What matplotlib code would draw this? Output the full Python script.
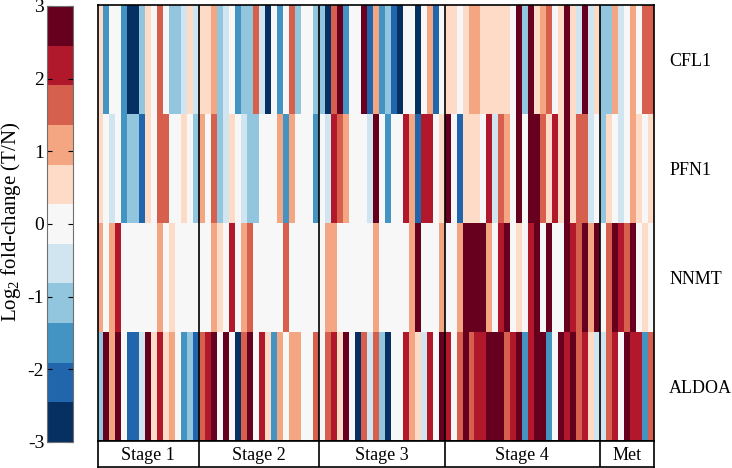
#!/usr/bin/env python3

import numpy as np
from matplotlib import pyplot as plt

plt.rcParams['font.family'] = ['Liberation Serif', 'DejaVu Serif']
plt.rcParams['mathtext.fontset'] = 'custom'
plt.rcParams['mathtext.rm'] = 'Liberation Serif'
plt.rcParams['mathtext.default'] = 'regular'
plt.rcParams['axes.unicode_minus'] = False

genes = ["CFL1", "PFN1", "NNMT", "ALDOA"]
stages = ["Stage 1", "Stage 2", "Stage 3", "Stage 4", "Met"]
stage_sizes = [17, 20, 21, 26, 9]
cbar_ticks = [-3, -2, -1, 0, 1, 2, 3]

# log2 fold-change per sample
cfl1 = [0.5, -1.6, 0, 0, -1.6, -2.7, -2.7, -1.1, 0.5, 0, 1.6, 0, -1.1, -1.1, -0.5, 0.5, -0.5,
        0.5, 0.5, 1.1, -1.1, -0.5, 0, -1.6, -1.1, -1.1, 1.6, -0.5, -2.7, 0, -1.6, 0, 1.6, -1.1, 0, 0, -1.1,
        -1.1, -2.7, 1.6, 2.7, -1.6, 0, 0, 2.7, -2.2, 1.1, -1.6, -1.1, -2.2, -2.7, 0, 0, -2.7, 0, 1.1, -2.2, 0,
        0.5, 0.5, 0, 0.5, 1.1, 1.1, 0.5, 0.5, 0.5, 0.5, 0.5, 0, 2.7, -1.1, 2.7, 0.5, 1.1, 1.6, 0, 0.5, 2.7, 0.5, -0.5, 2.7, -0.5, 0.5,
        -1.1, -1.1, 1.1, -0.5, 0, 1.1, 0, 1.6, 1.6]
pfn1 = [0.5, 0, -0.5, 0, -1.6, -1.1, -1.1, -2.2, 0.5, 0, 1.6, 1.6, 0, 0, 0.5, 0, -1.1,
        1.1, 0, 1.6, -1.1, -0.5, 0.5, 0, -0.5, -1.1, -1.1, 0, 0, 0, 1.1, -1.6, 1.1, 0, 0, 0, -1.6,
        0, -0.5, 2.2, 1.6, 1.1, 0, 0, 0, -0.5, 2.7, 0, -1.6, 0, 0, 2.2, 1.1, -2.2, 2.2, 2.2, 0, 0.5,
        2.7, 0, -2.2, 0.5, 0.5, 0.5, 0, 2.2, -0.5, 1.6, 1.1, 0, 2.7, 0, 2.7, 2.7, 1.6, 0.5, 2.2, 0.5, 2.7, 0.5, 1.6, 1.6, -0.5, 0,
        -1.1, 0.5, 0, -0.5, 0, 1.1, 0.5, 0, 0.5]
nnmt = [1.1, 0, 1.1, 2.2, 0, 0, 0, 0, 0, 0, 1.1, 0, 0.5, 0, 0, 0, 0,
        0, 0, 1.1, 0.5, 0, 2.2, 0, 1.1, 1.6, 0, 0, 0, 0, 0, 1.6, 0, 0, 0, 0, 0,
        0, 1.1, 1.1, 0, 0, 0, 0, 0, 0, 1.1, 0, 0, 0, 0, 0, 1.1, 2.7, 0, 0, 0, 1.1,
        0, 0, 1.1, 2.7, 2.7, 2.7, 2.7, 1.1, 0, 2.2, 2.7, 0, 0.5, 0, 2.2, 2.7, 0, 2.7, 0, 0, 2.7, 2.2, 1.6, 2.7, 1.1, 2.7,
        0, 1.6, 2.7, 2.2, 1.6, 2.7, 0, 0.5, 0]
aldoa = [-1.1, 2.7, 1.1, 2.7, 0, -2.2, -2.2, -0.5, 2.7, 0.5, 2.2, 0.5, 1.1, 0, -1.6, -1.1, -2.2,
         1.6, 2.2, 2.7, 0, 2.7, 0, -2.7, 1.6, 2.7, 0, 2.2, 0.5, -1.6, 1.1, 0, 1.1, 1.1, 0, 0, 1.6,
         0, 1.6, 2.2, 0.5, 2.7, 0, -2.7, 1.6, -0.5, 1.6, -1.1, -2.7, 0, 0, 2.2, 1.1, 0.5, -0.5, 2.2, 0, 2.7,
         2.2, 0, 1.6, 2.7, 1.6, 2.2, 2.2, 2.7, 2.7, 2.7, 1.6, 2.2, 2.7, -1.6, 2.2, 2.7, 2.7, -1.6, 0, 2.7, 2.2, 2.7, 1.6, 2.2, 0.5, -0.5,
         -0.5, 1.6, 2.2, 0, 2.7, 2.2, 2.2, -1.6, 1.6]


W, H = 732.0, 468.0


def add_axes(left, top, right, bottom):
    # pixel box of the reference -> figure coordinates
    return fig.add_axes([left / W, 1 - bottom / H, (right - left) / W, (bottom - top) / H])


fig = plt.figure(figsize=(W / 100, H / 100), dpi=100)
cmap = plt.get_cmap('RdBu_r', 11)
matrix = np.array([cfl1, pfn1, nnmt, aldoa])
n_cols = matrix.shape[1]
edges = np.cumsum(stage_sizes)

# heatmap
ax = add_axes(97.5, 5, 654, 441)
mesh = ax.pcolormesh(np.arange(n_cols + 1), np.arange(len(genes) + 1), matrix,
                     cmap=cmap, vmin=-3, vmax=3)
ax.invert_yaxis()
ax.set_xticks([])
ax.set_yticks(np.arange(len(genes)) + 0.5)
ax.set_yticklabels(genes, fontsize=13)
ax.yaxis.tick_right()
ax.tick_params(axis='y', length=0, pad=11)
for edge in edges[:-1]:
    ax.axvline(edge, color='black', linewidth=1.2)
for spine in ax.spines.values():
    spine.set_linewidth(1.2)

# stage strip
ax_stage = add_axes(97.5, 441, 654, 466.5)
ax_stage.set_xlim(0, n_cols)
ax_stage.set_ylim(0, 1)
ax_stage.set_xticks([])
ax_stage.set_yticks([])
starts = np.concatenate(([0], edges[:-1]))
for name, start, edge in zip(stages, starts, edges):
    ax_stage.text((start + edge) / 2.0, 0.44, name, ha='center', va='center', fontsize=13)
for edge in edges[:-1]:
    ax_stage.axvline(edge, color='black', linewidth=1.2)
for spine in ax_stage.spines.values():
    spine.set_linewidth(1.2)

# colour bar
cax = add_axes(47, 6, 73, 442)
cbar = fig.colorbar(mesh, cax=cax)
cbar.set_ticks(cbar_ticks)
cbar.ax.yaxis.set_ticks_position('left')
cbar.ax.tick_params(axis='y', direction='in', left=True, right=True, length=3.5, width=0.8,
                    labelsize=14, pad=2)
cbar.outline.set_edgecolor('#707070')
cbar.outline.set_linewidth(0.8)
fig.text(11 / W, 1 - 222 / H, "Log$_2$ fold-change (T/N)", rotation=90, ha='center', va='center',
         fontsize=15)

fig.savefig("out.png", dpi=100)
